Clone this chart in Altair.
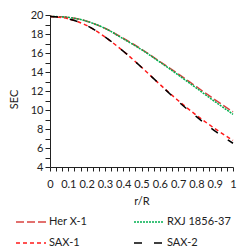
import altair as alt
import pandas as pd

r = [0.0, 0.1, 0.2, 0.3, 0.4, 0.5, 0.6, 0.7, 0.8, 0.9, 1.0]
her_x1 = [19.85, 19.75, 19.35, 18.6, 17.55, 16.4, 15.1, 13.8, 12.45, 11.1, 9.8]
rxj = [19.85, 19.75, 19.35, 18.6, 17.5, 16.35, 15.05, 13.7, 12.3, 10.9, 9.55]
sax1 = [19.85, 19.6, 18.9, 17.7, 16.2, 14.5, 12.7, 11.0, 9.45, 8.05, 6.8]
sax2 = [19.85, 19.6, 18.9, 17.7, 16.2, 14.5, 12.7, 10.9, 9.3, 7.8, 6.5]

# legend fills column by column: Her X-1, SAX-1 | RXJ 1856-37, SAX-2
series = ["Her X-1", "SAX-1", "RXJ 1856-37", "SAX-2"]
colors = ["#d9423f", "#ff1a1a", "#00b050", "#000000"]
dashes = [[8, 3], [4, 3], [2, 1], [8, 12]]
values = {"Her X-1": her_x1, "RXJ 1856-37": rxj, "SAX-1": sax1, "SAX-2": sax2}

rows = []
for name in ["Her X-1", "RXJ 1856-37", "SAX-1", "SAX-2"]:
    for x, y in zip(r, values[name]):
        rows.append({"r": x, "SEC": y, "series": name})
df = pd.DataFrame(rows)

x_ticks = [i / 30 for i in range(31)]
y_ticks = list(range(4, 21))

FONT = "Lato"

chart = alt.Chart(df).mark_line(strokeWidth=1.5, interpolate="monotone").encode(
    x=alt.X("r:Q",
            scale=alt.Scale(domain=[0, 1], nice=False),
            axis=alt.Axis(title="r/R", values=x_ticks,
                          labelExpr="abs(datum.value*10 - round(datum.value*10)) < 0.001 ? format(datum.value, '.1~f') : ''",
                          labelOverlap=False, labelFlush=False,
                          grid=False, tickSize=4, labelPadding=7,
                          titleY=28, titleBaseline="top")),
    y=alt.Y("SEC:Q",
            scale=alt.Scale(domain=[4, 20], nice=False, zero=False),
            axis=alt.Axis(title="SEC", values=y_ticks,
                          labelExpr="datum.value % 2 == 0 ? datum.label : ''",
                          labelOverlap=False, grid=False, tickSize=5, labelPadding=2,
                          titleX=-31, titleY=84, titleBaseline="bottom")),
    color=alt.Color("series:N", scale=alt.Scale(domain=series, range=colors),
                    legend=alt.Legend(title=None)),
    strokeDash=alt.StrokeDash("series:N", scale=alt.Scale(domain=series, range=dashes),
                              legend=alt.Legend(title=None)),
    order=alt.Order("series:N"),
).properties(
    width=183, height=152,
    autosize=alt.AutoSizeParams(type="none"),
    padding={"left": 42, "top": 7, "right": 4, "bottom": 82},
).configure_view(
    stroke=None
).configure_axis(
    domainColor="#222", tickColor="#222", labelColor="#222", titleColor="#222",
    labelFont=FONT, titleFont=FONT, labelFontSize=11, titleFontSize=11,
    titleFontWeight="normal", domainWidth=1, tickWidth=1,
).configure_legend(
    orient="none", legendX=-35, legendY=191, columns=2, symbolType="stroke",
    symbolSize=900, symbolStrokeWidth=1.5, labelFont=FONT, labelFontSize=11,
    labelColor="#222", labelOffset=2, columnPadding=43, rowPadding=-16,
)

chart.save("out.html", embed_options={"renderer": "svg", "actions": False})
